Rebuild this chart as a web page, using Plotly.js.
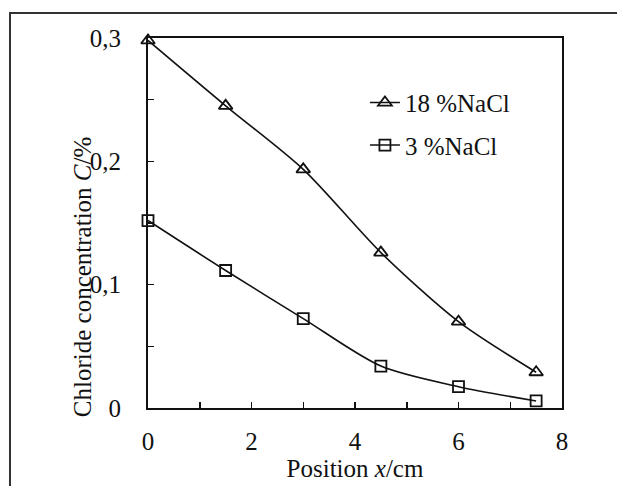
<!DOCTYPE html>
<html>
<head>
<meta charset="utf-8">
<script src="https://cdn.plot.ly/plotly-3.0.1.min.js"></script>
<style>
  html, body { margin: 0; padding: 0; background: #fff; }
  #wrap { position: relative; width: 617px; height: 486px; overflow: hidden; }
  #chart { width: 617px; height: 486px; }
  #frame { position: absolute; left: 9px; top: 12px; width: 700px; height: 600px;
           border-left: 2px solid #333; border-top: 2px solid #333; pointer-events: none; }
</style>
</head>
<body>
<div id="wrap">
  <div id="chart"></div>
  <div id="frame"></div>
</div>
<script>
// Data
const positions = [0, 1.5, 3, 4.5, 6, 7.5];
const nacl18 = [0.298, 0.245, 0.1935, 0.126, 0.070, 0.029];
const nacl3 = [0.152, 0.1115, 0.0725, 0.034, 0.0173, 0.0057];
const seriesNames = ['18 %NaCl', '3 %NaCl'];
const xTickVals = [0, 1, 2, 3, 4, 5, 6, 7, 8];
const xTickText = ['0', '', '2', '', '4', '', '6', '', '8'];
const yTickVals = [0, 0.05, 0.1, 0.15, 0.2, 0.25, 0.3];
const yTickText = ['0', '', '0,1', '', '0,2', '', '0,3'];

const FONT = '"Liberation Serif"';
const INK = '#111';
const FS = 25;

const traces = [
  {
    x: positions, y: nacl18, name: seriesNames[0], type: 'scatter', mode: 'lines+markers',
    legendgroup: 'a', cliponaxis: false,
    line: { color: INK, width: 1.6, shape: 'spline', smoothing: 0.8 },
    marker: { symbol: 'triangle-up-open', size: 12, color: INK, line: { color: INK, width: 1.8 } }
  },
  {
    x: positions, y: nacl3, name: seriesNames[1], type: 'scatter', mode: 'lines+markers',
    legendgroup: 'b', cliponaxis: false,
    line: { color: INK, width: 1.6, shape: 'spline', smoothing: 0.8 },
    marker: { symbol: 'square-open', size: 11, color: INK, line: { color: INK, width: 1.8 } }
  }
];

const layout = {
  width: 617, height: 486,
  margin: { l: 148, r: 55, t: 38, b: 78 },
  paper_bgcolor: '#fff', plot_bgcolor: '#fff',
  font: { family: FONT, size: FS, color: INK },
  showlegend: true,
  legend: {
    x: 0.524, y: 0.887, xanchor: 'left', yanchor: 'top',
    bgcolor: 'rgba(0,0,0,0)', traceorder: 'grouped', tracegroupgap: 7,
    font: { family: FONT, size: FS, color: INK }
  },
  xaxis: {
    range: [0, 8], tickmode: 'array', tickvals: xTickVals, ticktext: xTickText,
    ticks: 'inside', ticklen: 6, tickwidth: 1.5, tickcolor: INK,
    showline: true, linewidth: 2, linecolor: INK, mirror: true,
    showgrid: false, zeroline: false, ticklabelstandoff: 10,
    title: { text: 'Position <i>x</i>/cm', font: { family: FONT, size: FS, color: INK }, standoff: 0 }
  },
  yaxis: {
    range: [0, 0.3], tickmode: 'array', tickvals: yTickVals, ticktext: yTickText,
    ticks: 'inside', ticklen: 6, tickwidth: 1.5, tickcolor: INK,
    showline: true, linewidth: 2, linecolor: INK, mirror: true,
    showgrid: false, zeroline: false, ticklabelstandoff: 20
  },
  annotations: [
    {
      text: 'Chloride concentration <i>C</i>/%', textangle: -90,
      xref: 'paper', yref: 'paper', x: -0.159, y: 0.354,
      xanchor: 'center', yanchor: 'middle', showarrow: false,
      font: { family: FONT, size: FS, color: INK }
    }
  ]
};

Plotly.newPlot('chart', traces, layout, { displayModeBar: false, staticPlot: true });
</script>
</body>
</html>
